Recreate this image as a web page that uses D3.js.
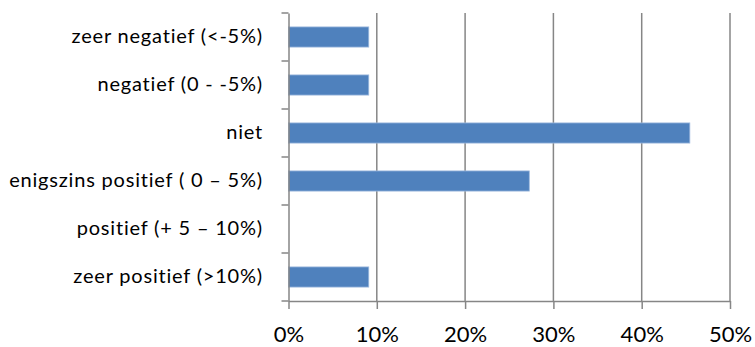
<!DOCTYPE html>
<html><head><meta charset="utf-8">
<script src="https://cdn.jsdelivr.net/npm/d3@7"></script>
<style>body{margin:0;background:#fff}svg{display:block}text{font-variant-ligatures:none;font-feature-settings:"liga" 0}</style>
</head><body>
<svg id="c" width="755" height="347"></svg>
<script>
const categories = ["zeer negatief (<-5%)", "negatief (0 - -5%)", "niet", "enigszins positief ( 0 – 5%)", "positief (+ 5 – 10%)", "zeer positief (>10%)"];
const values = [0.0909, 0.0909, 0.4545, 0.2727, 0, 0.0909];
const ticks = [0, 0.1, 0.2, 0.3, 0.4, 0.5];

(function () {
const svg = d3.select("#c");
const mLeft = 288.5, mRight = 730, mTop = 13, mBottom = 301;
const x = d3.scaleLinear().domain([0, 0.5]).range([mLeft, mRight]);
const y = d3.scaleBand().domain(categories).range([mTop, mBottom]).paddingInner(0.58).paddingOuter(0.29);
const yb = d3.scaleBand().domain(categories).range([mTop, mBottom]);
const font = "Lato, 'Open Sans', sans-serif";
const grey = "#868686";

// gridlines
svg.append("g").selectAll("line").data(ticks.slice(1)).join("line")
  .attr("x1", d => x(d)).attr("x2", d => x(d)).attr("y1", mTop).attr("y2", mBottom)
  .attr("stroke", grey).attr("stroke-width", 1.5);

// bars
svg.append("g").selectAll("rect").data(categories.map((c, i) => ({c, v: values[i]})).filter(d => d.v > 0)).join("rect")
  .attr("x", x(0)).attr("y", d => y(d.c)).attr("width", d => x(d.v) - x(0)).attr("height", y.bandwidth())
  .attr("fill", "#4F81BD").attr("stroke", "#9DB9DE").attr("stroke-width", 0.8);

// x axis
const xa = svg.append("g").attr("transform", `translate(0,${mBottom})`)
  .call(d3.axisBottom(x).tickValues(ticks).tickFormat(d3.format(".0%")).tickSize(8).tickPadding(17).tickSizeOuter(0));
xa.select(".domain").attr("stroke", grey).attr("stroke-width", 1.5);
xa.selectAll(".tick line").attr("stroke", grey).attr("stroke-width", 1.5);
xa.selectAll("text").attr("font-family", font).attr("font-size", 22).attr("fill", "#000");

// y axis
const ya = svg.append("g").attr("transform", `translate(${mLeft},0)`)
  .call(d3.axisLeft(yb).tickSize(0).tickPadding(25.5));
ya.select(".domain").attr("stroke", grey).attr("stroke-width", 1.5);
ya.selectAll("text").attr("font-family", font).attr("font-size", 20).attr("letter-spacing", 0.8).attr("fill", "#000");
// category separator ticks
const edges = d3.range(categories.length + 1).map(i => mTop + i * yb.step());
svg.append("g").selectAll("line").data(edges).join("line")
  .attr("x1", mLeft - 7).attr("x2", mLeft).attr("y1", d => d).attr("y2", d => d)
  .attr("stroke", grey).attr("stroke-width", 1.5);
})();
</script>
</body></html>
